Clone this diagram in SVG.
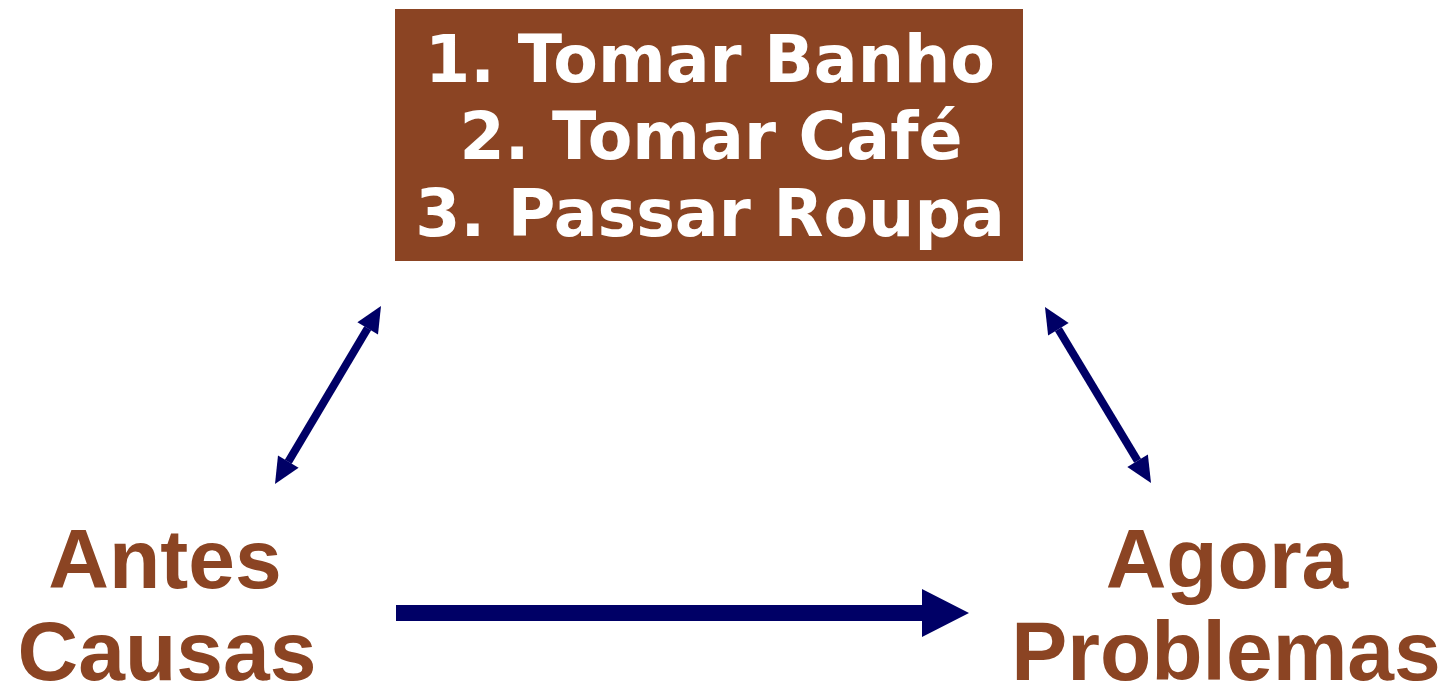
<svg xmlns="http://www.w3.org/2000/svg" width="1454" height="696" viewBox="0 0 1454 696">
<style>
.box{fill:#8B4423}
.boxt{font-family:"DejaVu Sans",Verdana,sans-serif;font-weight:bold;font-size:65px;fill:#ffffff;text-anchor:middle}
.lbl{font-family:"Liberation Sans",Arial,sans-serif;font-weight:bold;font-size:84px;fill:#8B4423;text-anchor:middle}
.conn{stroke:#000066;stroke-width:8;fill:none}
</style>
<defs>
<marker id="ah" markerUnits="userSpaceOnUse" markerWidth="28" markerHeight="26" refX="0" refY="12" orient="auto-start-reverse" overflow="visible">
<path d="M0,0 L26,12 L0,24 z" fill="#000066"/>
</marker>
</defs>
<g id="node-steps">
<rect class="box" x="395" y="9" width="628" height="252"/>
<text class="boxt" x="710" y="82">1. Tomar Banho</text>
<text class="boxt" x="711" y="159">2. Tomar Café</text>
<text class="boxt" x="710" y="236">3. Passar Roupa</text>
</g>
<g id="node-antes">
<text class="lbl" x="165" y="588">Antes</text>
<text class="lbl" x="167" y="680">Causas</text>
</g>
<g id="node-agora">
<text class="lbl" x="1227" y="588">Agora</text>
<text class="lbl" x="1226" y="680">Problemas</text>
</g>
<g id="connectors">
<line class="conn" x1="288.3" y1="461.7" x2="367.7" y2="328.3" marker-start="url(#ah)" marker-end="url(#ah)"/>
<line class="conn" x1="1058.4" y1="329.3" x2="1137.6" y2="460.7" marker-start="url(#ah)" marker-end="url(#ah)"/>
<polygon points="396,605 922,605 922,589 969,613 922,637 922,621 396,621" fill="#000066"/>
</g>
</svg>
